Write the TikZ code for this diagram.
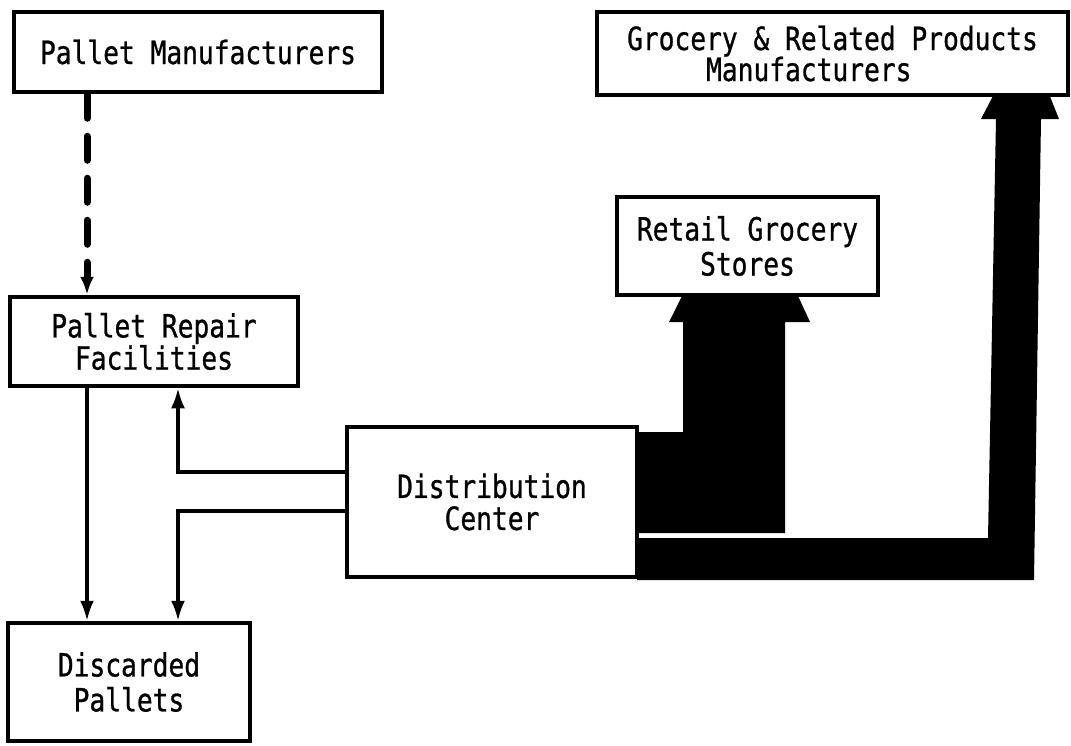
\documentclass[tikz,border=0pt]{standalone}
\usepackage{fontspec}
\setmonofont[FakeStretch=0.82,FakeBold=0.8]{DejaVu Sans Mono}
\usetikzlibrary{arrows.meta}
\begin{document}
\begin{tikzpicture}[x=1pt,y=-1pt,
  box/.style={draw, line width=4.5pt, inner sep=0pt, align=center,
              font=\ttfamily\fontsize{32}{31}\selectfont},
  conn/.style={line width=3.2pt},
  tip/.style={-{Latex[length=20pt,width=14pt]}},
  dashconn/.style={line width=7pt, dash pattern=on 24pt off 18pt, line cap=round,
              -{Latex[length=18pt,width=14pt]}},
  flow/.style={fill=black}]
\useasboundingbox (0,0) rectangle (1071,745);

% boxes
\node[box, minimum width=368pt, minimum height=80pt] (pm) at (198,52) {Pallet Manufacturers};
\node[box, minimum width=288pt, minimum height=89pt,
      font=\ttfamily\fontsize{32}{30}\selectfont] (rep) at (154,341.5) {Pallet Repair\\Facilities};
\node[box, minimum width=290pt, minimum height=150pt,
      font=\ttfamily\fontsize{32}{32}\selectfont] (dc) at (492,502) {Distribution\\Center};
\node[box, minimum width=242pt, minimum height=118pt,
      font=\ttfamily\fontsize{32}{35}\selectfont] (dis) at (129,682) {Discarded\\Pallets};
\node[box, minimum width=261pt, minimum height=98pt,
      font=\ttfamily\fontsize{32}{35}\selectfont] (ret) at (747.5,246) {Retail Grocery\\Stores};
\node[box, align=left, minimum width=471pt, minimum height=83pt,
      font=\ttfamily\fontsize{32}{31}\selectfont] (gro) at (832.5,53.5)
      {Grocery \& Related Products\\\hphantom{GGGGG}Manufacturers};

% thick flows
\fill[flow] (637,432) -- (683,432) -- (683,322) -- (669,322) -- (682,296)
   -- (798,296) -- (810,322) -- (785,322) -- (785,533) -- (637,533) -- cycle;
\fill[flow] (637,538) -- (988,538) -- (996,119) -- (981,119) -- (994,94)
   -- (1049,94) -- (1059,119) -- (1041,119) -- (1034,580) -- (637,580) -- cycle;

% helper coordinates
\coordinate (xa) at (87,0);
\coordinate (xb) at (178,0);
\coordinate (ya) at (0,472);
\coordinate (yb) at (0,511);

% thin connectors
\draw[dashconn] (pm.south -| xa) -- (rep.north -| xa);
\draw[conn, tip] (rep.south -| xa) -- (dis.north -| xa);
\draw[conn, tip] (dc.west |- ya) -| (rep.south -| xb);
\draw[conn, tip] (dc.west |- yb) -| (dis.north -| xb);
\end{tikzpicture}
\end{document}
